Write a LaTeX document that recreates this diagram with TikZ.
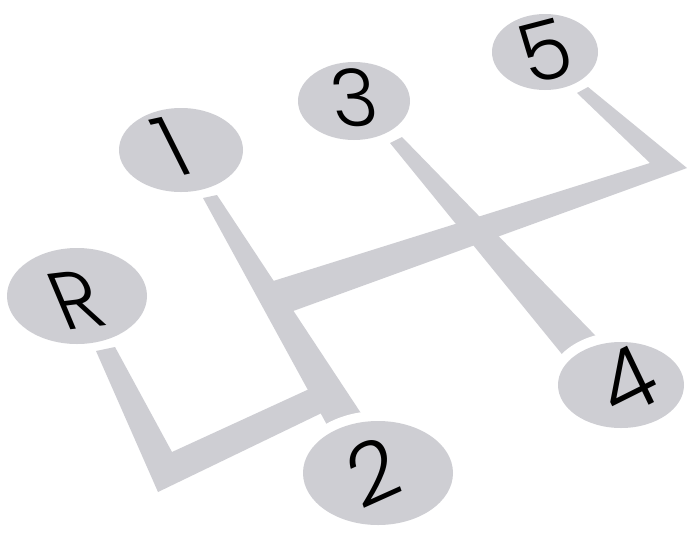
\documentclass[tikz,border=0pt]{standalone}
\usepackage{fontspec}
\newfontfamily\gearfont{Poppins Light}
\usetikzlibrary{shapes.geometric}
\definecolor{gatefill}{RGB}{206,206,211}
\begin{document}
\begin{tikzpicture}[x=1pt,y=-1pt,
  gate/.style={fill=gatefill,draw=none},
  knob/.style={ellipse,fill=gatefill,draw=none,inner sep=0pt},
  halo/.style={ellipse,fill=white,draw=none,inner sep=0pt},
  digit/.style={font=\gearfont\fontsize{79}{79}\selectfont,inner sep=0pt,transform shape,text=black}]
\useasboundingbox[fill=white] (0,0) rectangle (697,550);
% gate slots
\fill[gate] (96,351) -- (158,492) -- (330,409) -- (318,385) -- (172,452) -- (115,347) -- cycle;
\fill[gate] (203,198) -- (217,195) -- (382,445) -- (338,445) -- cycle;
\fill[gate] (270,282) -- (650,163) -- (577,93) -- (588,87) -- (687,168) -- (285,314) -- cycle;
\fill[gate] (390,143) -- (402,137) -- (629,370) -- (583,380) -- cycle;
% white rings
\node[halo,minimum width=170pt,minimum height=124pt] (h2) at (378,473) {};
\node[halo,minimum width=146pt,minimum height=106pt] (h4) at (621,385) {};
% knobs
\node[knob,minimum width=140pt,minimum height=96pt] (kR) at (77,296) {};
\node[knob,minimum width=124pt,minimum height=84pt] (k1) at (181,150) {};
\node[knob,minimum width=112pt,minimum height=78pt] (k3) at (354,101) {};
\node[knob,minimum width=106pt,minimum height=76pt] (k5) at (545,52) {};
\node[knob,minimum width=126pt,minimum height=86pt] (k4) at (621,385) {};
\node[knob,minimum width=150pt,minimum height=104pt] (k2) at (378,473) {};
% labels
\begin{scope}[shift={(76,300)},cm={1,0.12,-0.42,1,(0,0)}]
  \node[digit] (tR) {R};
\end{scope}
\begin{scope}[shift={(172,147)},cm={1,0.22,-0.5,1,(0,0)}]
  \node[digit] (t1) {1};
\end{scope}
\begin{scope}[shift={(354,98)},cm={1,0.05,-0.15,1,(0,0)}]
  \node[digit] (t3) {3};
\end{scope}
\begin{scope}[shift={(545,51)},cm={1,0.26,-0.3,1,(0,0)}]
  \node[digit] (t5) {5};
\end{scope}
\begin{scope}[shift={(627,381)},cm={1,0.5,-0.48,1,(0,0)}]
  \node[digit] (t4) {4};
\end{scope}
\begin{scope}[shift={(373,472)},cm={1,0.45,-0.35,1,(0,0)}]
  \node[digit] (t2) {2};
\end{scope}
\end{tikzpicture}
\end{document}
